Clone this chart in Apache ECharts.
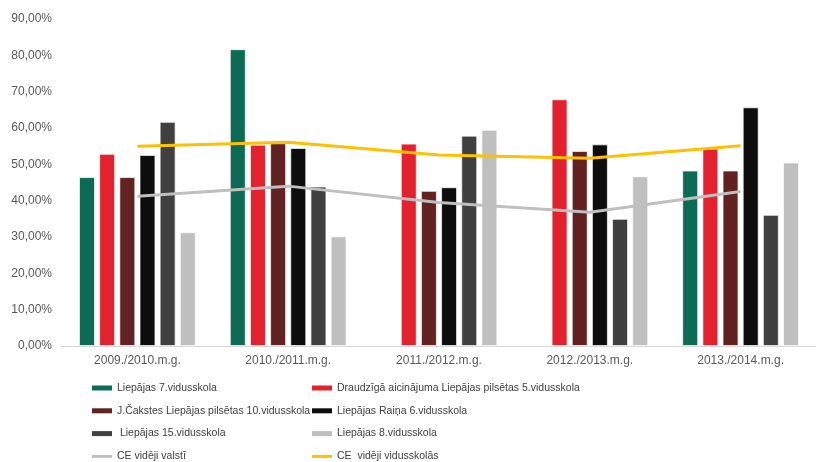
<!DOCTYPE html>
<html>
<head>
<meta charset="utf-8">
<script src="https://cdn.jsdelivr.net/npm/echarts@6/dist/echarts.min.js"></script>
<style>
  html, body { margin: 0; padding: 0; background: #fff; }
  #chart { width: 816px; height: 462px; }
</style>
</head>
<body>
<div id="chart"></div>
<script>
// mācību gadi
const years = ['2009./2010.m.g.', '2010./2011.m.g.', '2011./2012.m.g.', '2012./2013.m.g.', '2013./2014.m.g.'];
const yTicks = [0, 10, 20, 30, 40, 50, 60, 70, 80, 90];

// skolu rezultāti, %
const school7 = [46.5, 81.7, null, null, 48.3];
const school5 = [52.9, 55.4, 55.7, 67.9, 54.3];
const school10 = [46.5, 55.8, 42.7, 53.7, 48.3];
const school6 = [52.6, 54.5, 43.7, 55.5, 65.7];
const school15 = [61.7, 43.9, 57.9, 35.0, 36.1];
const school8 = [31.3, 30.2, 59.5, 46.7, 50.5];
// vidējie
const avgCountry = [41.2, 44.0, 39.5, 36.8, 42.5];
const avgSecondary = [55.0, 56.1, 52.6, 51.7, 55.1];

const names = [
  'Liepājas 7.vidusskola',
  'Draudzīgā aicinājuma Liepājas pilsētas 5.vidusskola',
  'J.Čakstes Liepājas pilsētas 10.vidusskola',
  'Liepājas Raiņa 6.vidusskola',
  ' Liepājas 15.vidusskola',
  'Liepājas 8.vidusskola',
  'CE vidēji valstī',
  'CE  vidēji vidusskolās'
];
const barColors = ['#0d6b55', '#e3222f', '#622222', '#0d0d0d', '#404040', '#bfbfbf'];

let myChart = echarts.init(document.getElementById('chart'), null, { renderer: 'canvas' });

function bar(i, data) {
  return {
    name: names[i],
    type: 'bar',
    data: data,
    barWidth: 16,
    barGap: '26%',
    itemStyle: { color: barColors[i], borderColor: 'rgba(255,255,255,0.7)', borderWidth: 1 }
  };
}
function line(i, data, color) {
  return {
    name: names[i],
    type: 'line',
    data: data,
    symbol: 'none',
    lineStyle: { color: color, width: 3 },
    itemStyle: { color: color },
    z: 5
  };
}

// leģenda: 2 kolonnas, 4 rindas
const legendText = { fontFamily: 'Liberation Sans, Arial', fontSize: 10.5, color: '#404040' };
function legendItem(i) {
  const col = i % 2, row = Math.floor(i / 2);
  return {
    left: col ? 312 : 92,
    top: 382.5 + row * 22.8,
    padding: 0,
    itemWidth: 20,
    itemHeight: row === 3 ? 3 : 5,
    textStyle: legendText,
    data: [{ name: names[i], icon: 'rect', itemStyle: { borderWidth: 0 } }]
  };
}

myChart.setOption({
  animation: false,
  grid: { left: 62, top: 19, width: 765, bottom: 116 },
  legend: names.map((n, i) => legendItem(i)),
  xAxis: {
    type: 'category',
    data: years,
    axisLine: { lineStyle: { color: '#d9d9d9', width: 1 } },
    axisTick: { show: false },
    axisLabel: { color: '#595959', fontSize: 12, fontFamily: 'Liberation Sans, Arial', margin: 9 }
  },
  yAxis: {
    type: 'value',
    min: yTicks[0],
    max: yTicks[yTicks.length - 1],
    interval: 10,
    axisLine: { show: false },
    axisTick: { show: false },
    splitLine: { show: false },
    axisLabel: {
      color: '#595959',
      fontSize: 12,
      fontFamily: 'Liberation Sans, Arial',
      margin: 10,
      formatter: v => v.toFixed(2).replace('.', ',') + '%'
    }
  },
  series: [
    bar(0, school7),
    bar(1, school5),
    bar(2, school10),
    bar(3, school6),
    bar(4, school15),
    bar(5, school8),
    line(6, avgCountry, '#bfbfbf'),
    line(7, avgSecondary, '#ffc000')
  ]
});
</script>
</body>
</html>
